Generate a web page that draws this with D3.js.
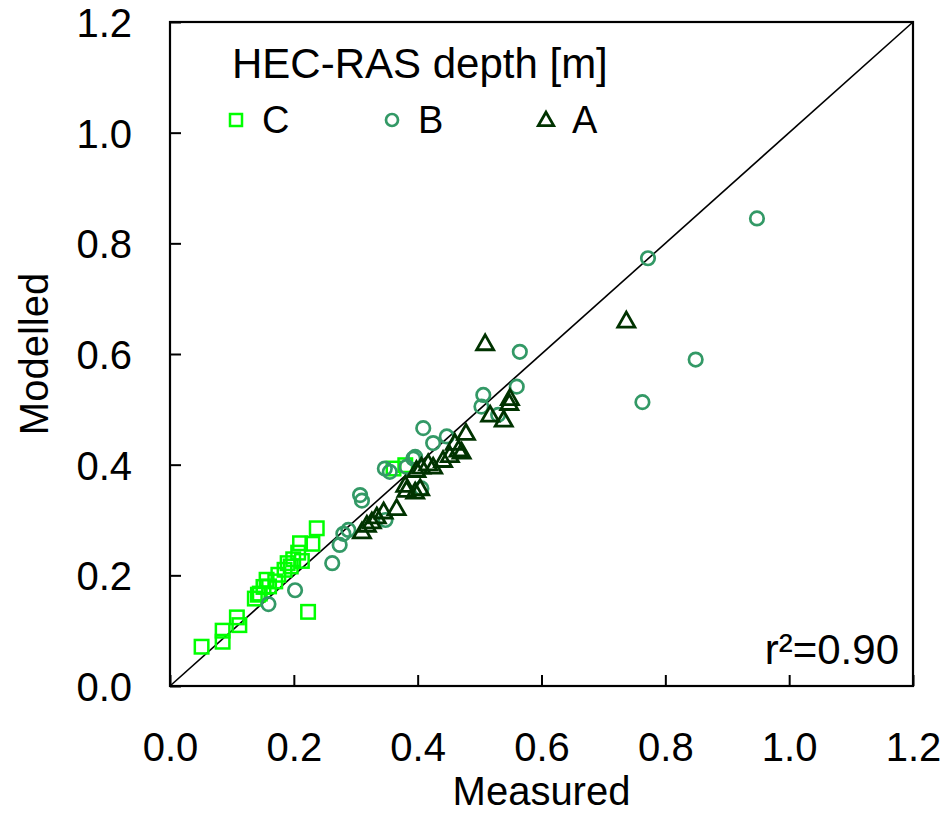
<!DOCTYPE html>
<html lang="en">
    <head>
        <meta charset="utf-8">
        <title>HEC-RAS depth: modelled vs measured</title>
        <script src="https://d3js.org/d3.v7.min.js"></script>
    </head>
    <style>
        body { margin: 0; background: #fff; font-family: "Liberation Sans", Arial, sans-serif; }
        svg { display: block; }
    </style>
    <body>
        <script type="text/javascript">

        // measured / modelled depth pairs [m]
        var seriesC = [[0.051,0.071],[0.085,0.080],[0.085,0.100],[0.108,0.124],[0.112,0.110],
                       [0.137,0.158],[0.142,0.165],[0.145,0.167],[0.151,0.179],[0.156,0.192],
                       [0.160,0.180],[0.170,0.189],[0.175,0.201],[0.185,0.210],[0.190,0.222],
                       [0.195,0.216],[0.199,0.229],[0.213,0.226],[0.207,0.241],[0.210,0.258],
                       [0.230,0.257],[0.237,0.285],[0.223,0.134],[0.361,0.393],[0.380,0.399]];

        var seriesB = [[0.159,0.148],[0.202,0.173],[0.262,0.222],[0.274,0.255],[0.280,0.275],
                       [0.288,0.282],[0.307,0.345],[0.310,0.335],[0.348,0.300],[0.347,0.393],
                       [0.355,0.387],[0.382,0.396],[0.393,0.411],[0.396,0.414],[0.409,0.466],
                       [0.425,0.439],[0.447,0.451],[0.406,0.357],[0.503,0.505],[0.506,0.526],
                       [0.530,0.490],[0.560,0.541],[0.565,0.604],[0.763,0.513],[0.772,0.773],
                       [0.849,0.590],[0.948,0.845]];

        var seriesA = [[0.310,0.279],[0.318,0.291],[0.326,0.297],[0.334,0.306],[0.345,0.315],
                       [0.366,0.321],[0.380,0.363],[0.382,0.354],[0.396,0.351],[0.404,0.357],
                       [0.398,0.390],[0.406,0.396],[0.417,0.402],[0.425,0.396],[0.441,0.408],
                       [0.452,0.417],[0.460,0.439],[0.466,0.427],[0.471,0.423],[0.478,0.457],
                       [0.517,0.490],[0.539,0.481],[0.548,0.511],[0.549,0.520],[0.509,0.619],
                       [0.737,0.660]];

        var tickValues = [0, 0.2, 0.4, 0.6, 0.8, 1.0, 1.2];
        var legendKeys = ["C", "B", "A"];
        var legendTitle = "HEC-RAS depth [m]";
        var r2Label = "r\u00b2=0.90";

        var margin = {top: 22, right: 30, bottom: 130, left: 170},
            width = 913 - margin.left,
            height = 686 - margin.top;

        var svg = d3.select("body").append("svg")
            .attr("width", 943)
            .attr("height", 816);

        var g = svg.append("g").attr("transform", "translate(" + margin.left + "," + margin.top + ")");

        var x = d3.scaleLinear().domain([0, 1.2]).range([0, width]);
        var y = d3.scaleLinear().domain([0, 1.2]).range([height, 0]);

        var colors = {C: "#00ff00", B: "#339966", A: "#003300"};

        // 1:1 line
        g.append("line")
            .attr("x1", x(0)).attr("y1", y(0))
            .attr("x2", x(1.2)).attr("y2", y(1.2))
            .attr("stroke", "#000")
            .attr("stroke-width", 1.6);

        // axes, ticks point inward
        var fmt = d3.format(".1f");
        var xAxis = g.append("g")
            .attr("transform", "translate(0," + height + ")")
            .call(d3.axisBottom(x).tickValues(tickValues).tickFormat(fmt).tickSizeInner(-11).tickSizeOuter(0).tickPadding(47));
        var yAxis = g.append("g")
            .call(d3.axisLeft(y).tickValues(tickValues).tickFormat(fmt).tickSizeInner(-11).tickSizeOuter(0).tickPadding(38));

        [xAxis, yAxis].forEach(function(a) {
            a.select(".domain").remove();
            a.selectAll("line").attr("stroke", "#000").attr("stroke-width", 2);
            a.selectAll("text")
                .attr("fill", "#000")
                .style("font-family", "'Liberation Sans', Arial, sans-serif")
                .style("font-size", "40px");
        });
        yAxis.selectAll("text").attr("dy", "0.36em");

        // frame
        g.append("rect")
            .attr("x", 0).attr("y", 0)
            .attr("width", width).attr("height", height)
            .attr("fill", "none")
            .attr("stroke", "#000")
            .attr("stroke-width", 2.2);

        // marker drawing
        function drawMarker(sel, key, s) {
            if (key == "C") {
                sel.append("rect")
                    .attr("x", -s / 2).attr("y", -s / 2)
                    .attr("width", s).attr("height", s)
                    .attr("fill", "none").attr("stroke", colors.C).attr("stroke-width", 2.5);
            } else if (key == "B") {
                sel.append("circle")
                    .attr("r", s / 2)
                    .attr("fill", "none").attr("stroke", colors.B).attr("stroke-width", 2.7);
            } else {
                var h = s * 0.9;
                sel.append("path")
                    .attr("d", "M0," + (-h * 0.62) + "L" + (s * 0.55) + "," + (h * 0.45) + "L" + (-s * 0.55) + "," + (h * 0.45) + "Z")
                    .attr("fill", "none").attr("stroke", colors.A).attr("stroke-width", 2.8)
                    .attr("stroke-linejoin", "miter");
            }
        }

        var series = [{key: "C", values: seriesC, size: 13.5},
                      {key: "B", values: seriesB, size: 13.5},
                      {key: "A", values: seriesA, size: 15.5}];

        series.forEach(function(s) {
            g.append("g").selectAll("g")
                .data(s.values)
                .enter().append("g")
                .attr("transform", function(d) { return "translate(" + x(d[0]) + "," + y(d[1]) + ")"; })
                .each(function() { drawMarker(d3.select(this), s.key, s.size); });
        });

        // axis titles
        svg.append("text")
            .attr("x", (margin.left + 913) / 2)
            .attr("y", 805)
            .attr("text-anchor", "middle")
            .style("font-size", "40px")
            .text("Measured");

        svg.append("text")
            .attr("transform", "translate(48," + (margin.top + height / 2) + ") rotate(-90)")
            .attr("text-anchor", "middle")
            .style("font-size", "40px")
            .text("Modelled");

        // legend
        svg.append("text")
            .attr("x", 232)
            .attr("y", 78)
            .style("font-size", "42px")
            .text(legendTitle);

        var legendX = [236, 392, 546];
        var legend = svg.append("g").selectAll("g")
            .data(legendKeys)
            .enter().append("g")
            .attr("transform", function(d, i) { return "translate(" + legendX[i] + ",120)"; });

        legend.each(function(d) { drawMarker(d3.select(this), d, d == "A" ? 14 : 12); });

        legend.append("text")
            .attr("x", 26)
            .attr("y", 13)
            .style("font-size", "38px")
            .text(function(d) { return d; });

        // r squared
        svg.append("text")
            .attr("x", 899)
            .attr("y", 664)
            .attr("text-anchor", "end")
            .style("font-size", "42px")
            .text(r2Label);

        </script>
    </body>
</html>
